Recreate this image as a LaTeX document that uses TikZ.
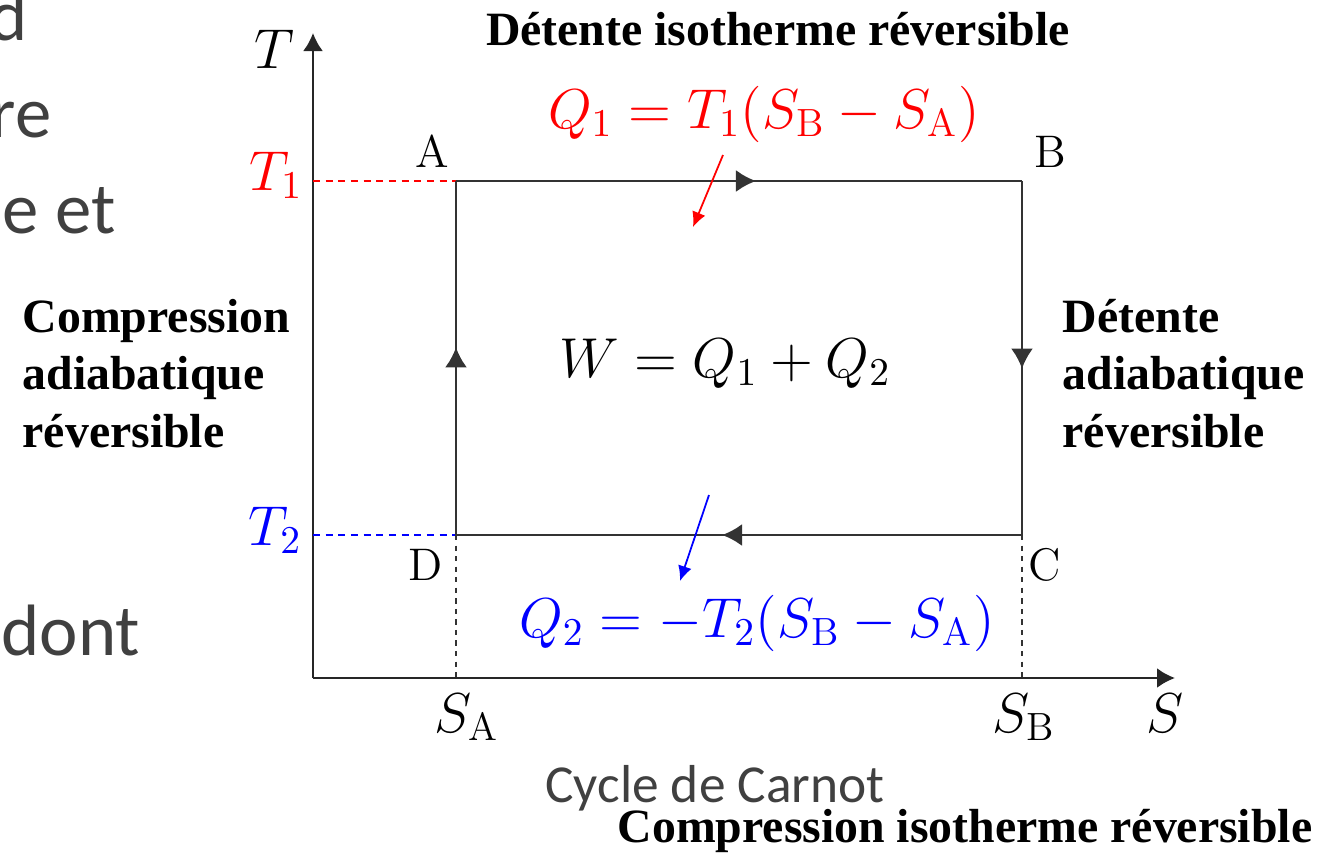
\documentclass[tikz,border=0pt]{standalone}
\usepackage{fix-cm}
\usepackage{amsmath,amssymb}
\usepackage{fontspec}
\newfontfamily\timesfont{Liberation Serif}
\newfontfamily\slidefont{Carlito}
\usepackage{tikz}
\usetikzlibrary{arrows.meta, positioning, calc, decorations.markings}
\usepackage{xcolor}
\definecolor{hot}{HTML}{FF0000}
\definecolor{cold}{HTML}{0000FF}
\definecolor{slidegray}{HTML}{404040}

\begin{document}
\begin{tikzpicture}[
    headline/.style={font=\fontsize{13.6}{16.3}\timesfont\bfseries, anchor=base, inner sep=0pt},
    sidetext/.style={font=\fontsize{13.6}{16.3}\timesfont\bfseries, align=left, anchor=base west, inner sep=0pt},
    formula/.style={font=\fontsize{16}{19}\selectfont, anchor=base, inner sep=0pt},
    vertex/.style={font=\fontsize{13}{15}\selectfont, anchor=base, inner sep=0pt},
    slide/.style={font=\fontsize{20.7}{25}\slidefont, text=slidegray, anchor=base east, inner sep=0pt},
    leg/.style={draw=black!80, line width=0.7pt, postaction={decorate},
        decoration={markings, mark=at position 0.53 with {\arrow{Latex[length=2mm,width=2.2mm]}}}},
    guide/.style={line width=0.6pt, dash pattern=on 2pt off 1.6pt},
    heat/.style={-{Latex[length=1.5mm,width=1.4mm]}, line width=0.5pt},
    >=Latex
]
\useasboundingbox (0,0) rectangle (13.42,8.53);

% slide text behind the figure
\node[slide] (w1) at (0.28,8.13) {d};
\node[slide] (w2) at (0.52,7.16) {re};
\node[slide] (w3) at (1.16,6.20) {e et};
\node[slide] (w4) at (1.41,1.98) {dont};

% axes
\coordinate (O) at (3.13,1.75);
\coordinate (Ttop) at (3.13,8.20);
\coordinate (Send) at (11.75,1.75);
\draw[line width=0.7pt, black!85, -{Latex[length=1.8mm,width=2mm]}] (O) -- (Ttop);
\draw[line width=0.7pt, black!85, -{Latex[length=1.8mm,width=2mm]}] (O) -- (Send);
\node[formula] (Tlab) at (2.74,7.85) {$T$};
\node[formula] (Slab) at (11.65,1.21) {$S$};

% cycle corners
\coordinate (pA) at (4.56,6.72);
\coordinate (pB) at (10.22,6.72);
\coordinate (pC) at (10.22,3.18);
\coordinate (pD) at (4.56,3.18);
\coordinate (t1) at (3.13,6.72);
\coordinate (t2) at (3.13,3.18);
\coordinate (sA) at (4.56,1.75);
\coordinate (sB) at (10.22,1.75);

\draw[guide, hot] (t1) -- (pA);
\draw[guide, cold] (t2) -- (pD);
\draw[guide, black!80, dash pattern=on 1.5pt off 1.5pt] (pD) -- (sA);
\draw[guide, black!80, dash pattern=on 1.5pt off 1.5pt] (pC) -- (sB);

\draw[leg] (pA) -- (pB);
\draw[leg] (pB) -- (pC);
\draw[leg] (pC) -- (pD);
\draw[leg] (pD) -- (pA);

\node[vertex] (A) at (4.32,6.86) {A};
\node[vertex] (B) at (10.50,6.86) {B};
\node[vertex] (C) at (10.45,2.73) {C};
\node[vertex] (D) at (4.26,2.73) {D};

\node[formula, text=hot] (T1) at (2.76,6.63) {$T_1$};
\node[formula, text=cold] (T2) at (2.75,3.08) {$T_2$};
\node[formula] (SA) at (4.67,1.21) {$S_{\mathrm{A}}$};
\node[formula] (SB) at (10.24,1.21) {$S_{\mathrm{B}}$};

% heat exchanges
\node[formula, text=hot] (Q1) at (7.64,7.25) {$Q_1 = T_1(S_{\mathrm{B}} - S_{\mathrm{A}})$};
\node[formula, text=cold] (Q2) at (7.57,2.16) {$Q_2 = -T_2(S_{\mathrm{B}} - S_{\mathrm{A}})$};
\coordinate (q1s) at (7.23,6.98);
\coordinate (q1e) at (6.93,6.26);
\coordinate (q2s) at (7.09,3.58);
\coordinate (q2e) at (6.80,2.72);
\draw[heat, hot] (q1s) -- (q1e);
\draw[heat, cold] (q2s) -- (q2e);

\node[formula] (W) at (7.25,4.76) {$W = Q_1 + Q_2$};

% transformations
\node[headline] (top) at (7.78,8.08) {Détente isotherme réversible};
\node[headline] (bottom) at (9.65,0.11) {Compression isotherme réversible};
\node[sidetext] (left) at (0.22,4.06) {Compression\\adiabatique\\réversible};
\node[sidetext] (right) at (10.62,4.06) {Détente\\adiabatique\\réversible};

\node[font=\fontsize{15.2}{18}\slidefont, text=slidegray, anchor=base] (caption) at (7.15,0.51) {Cycle de Carnot};
\end{tikzpicture}
\end{document}
